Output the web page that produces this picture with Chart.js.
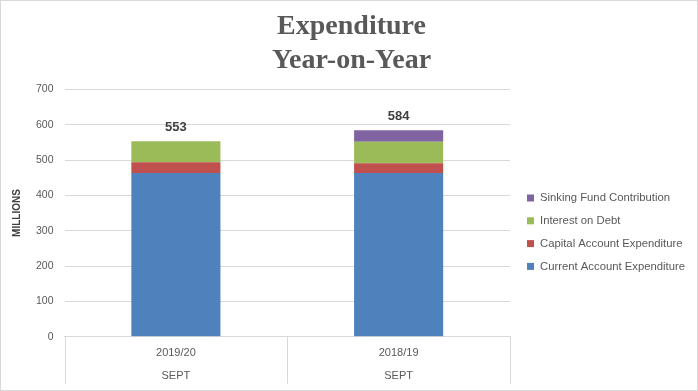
<!DOCTYPE html>
<html>
<head>
<meta charset="utf-8">
<script src="https://cdn.jsdelivr.net/npm/chart.js@4/dist/chart.umd.min.js"></script>
<style>
  html, body { margin: 0; padding: 0; background: #fff; }
  #wrap { width: 698px; height: 391px; position: relative; }
</style>
</head>
<body>
<div id="wrap"><canvas id="myChart" width="698" height="391"></canvas></div>
<script>
const categories = [['2019/20', 'SEPT'], ['2018/19', 'SEPT']];
const currentAccount = [463, 463];
const capitalAccount = [31, 28];
const interestOnDebt = [59, 61];
const sinkingFund = [0, 32];
const yTicks = [0, 100, 200, 300, 400, 500, 600, 700];

const grey = '#595959';
const lineGrey = '#d9d9d9';
const sansFont = '"Liberation Sans", Arial, sans-serif';

// totals, category separators, legend and outer frame
const extrasPlugin = {
  id: 'extras',
  afterDatasetsDraw(chart) {
    const ctx = chart.ctx;
    const y = chart.scales.y, x = chart.scales.x;
    const area = chart.chartArea;
    ctx.save();
    // totals above stacks
    ctx.font = 'bold 13px ' + sansFont;
    ctx.fillStyle = '#404040';
    ctx.textAlign = 'center';
    ctx.textBaseline = 'middle';
    categories.forEach((c, i) => {
      let total = 0;
      chart.data.datasets.forEach(ds => total += ds.data[i]);
      ctx.fillText(String(total), x.getPixelForValue(i), y.getPixelForValue(total) - 14);
    });
    // separators under the x axis
    ctx.strokeStyle = lineGrey;
    ctx.lineWidth = 1;
    const step = (x.right - x.left) / categories.length;
    for (let i = 0; i <= categories.length; i++) {
      const px = Math.round(x.left + i * step) + 0.5;
      ctx.beginPath();
      ctx.moveTo(px, area.bottom);
      ctx.lineTo(px, area.bottom + 47);
      ctx.stroke();
    }
    // legend (reversed order)
    ctx.font = '11.3px ' + sansFont;
    ctx.textAlign = 'left';
    const ds = chart.data.datasets.slice().reverse();
    const lx = area.right + 17;
    let ly = 198;
    ds.forEach(d => {
      ctx.fillStyle = d.backgroundColor;
      ctx.fillRect(lx, ly - 3.5, 7, 7);
      ctx.fillStyle = grey;
      ctx.fillText(d.label, lx + 13, ly);
      ly += 22.8;
    });
    ctx.restore();
  },
  afterDraw(chart) {
    const ctx = chart.ctx;
    ctx.save();
    ctx.strokeStyle = lineGrey;
    ctx.lineWidth = 1;
    ctx.strokeRect(0.5, 0.5, chart.width - 1, chart.height - 1);
    ctx.restore();
  }
};

const ctx = document.getElementById('myChart').getContext('2d');
new Chart(ctx, {
  type: 'bar',
  data: {
    labels: categories,
    datasets: [
      { label: 'Current Account Expenditure', data: currentAccount, backgroundColor: '#4f81bd' },
      { label: 'Capital Account Expenditure', data: capitalAccount, backgroundColor: '#c0504d' },
      { label: 'Interest on Debt', data: interestOnDebt, backgroundColor: '#9bbb59' },
      { label: 'Sinking Fund Contribution', data: sinkingFund, backgroundColor: '#8064a2' }
    ]
  },
  options: {
    responsive: false,
    animation: false,
    categoryPercentage: 1,
    barPercentage: 0.4,
    layout: { padding: { left: 5, right: 0, top: 0, bottom: 7 } },
    plugins: {
      title: {
        display: true,
        text: ['Expenditure', 'Year-on-Year'],
        color: grey,
        font: { family: '"Liberation Serif", serif', size: 28, weight: 'bold', lineHeight: 1.22 },
        padding: { top: 10, bottom: 11 }
      },
      legend: { display: false },
      tooltip: { enabled: false }
    },
    scales: {
      x: {
        stacked: true,
        border: { display: true, color: lineGrey },
        grid: { display: false },
        ticks: {
          color: grey,
          padding: -3.5,
          font: { family: sansFont, size: 11, lineHeight: 2.1 }
        }
      },
      y: {
        stacked: true,
        min: 0,
        max: 700,
        afterBuildTicks(scale) { scale.ticks = yTicks.map(v => ({ value: v })); },
        border: { display: false },
        grid: { color: lineGrey, drawTicks: false },
        ticks: {
          color: grey,
          padding: 11,
          font: { family: sansFont, size: 10.5 }
        },
        title: {
          display: true,
          text: 'MILLIONS',
          color: '#404040',
          padding: { top: 6, bottom: 2 },
          font: { family: sansFont, size: 10, weight: 'bold' }
        }
      },
      // empty right-hand axis that reserves room for the legend
      side: {
        position: 'right',
        display: true,
        min: 0,
        max: 700,
        border: { display: false },
        grid: { display: false },
        ticks: { display: false },
        afterFit(scale) { scale.width = 188; }
      }
    }
  },
  plugins: [extrasPlugin]
});
</script>
</body>
</html>
